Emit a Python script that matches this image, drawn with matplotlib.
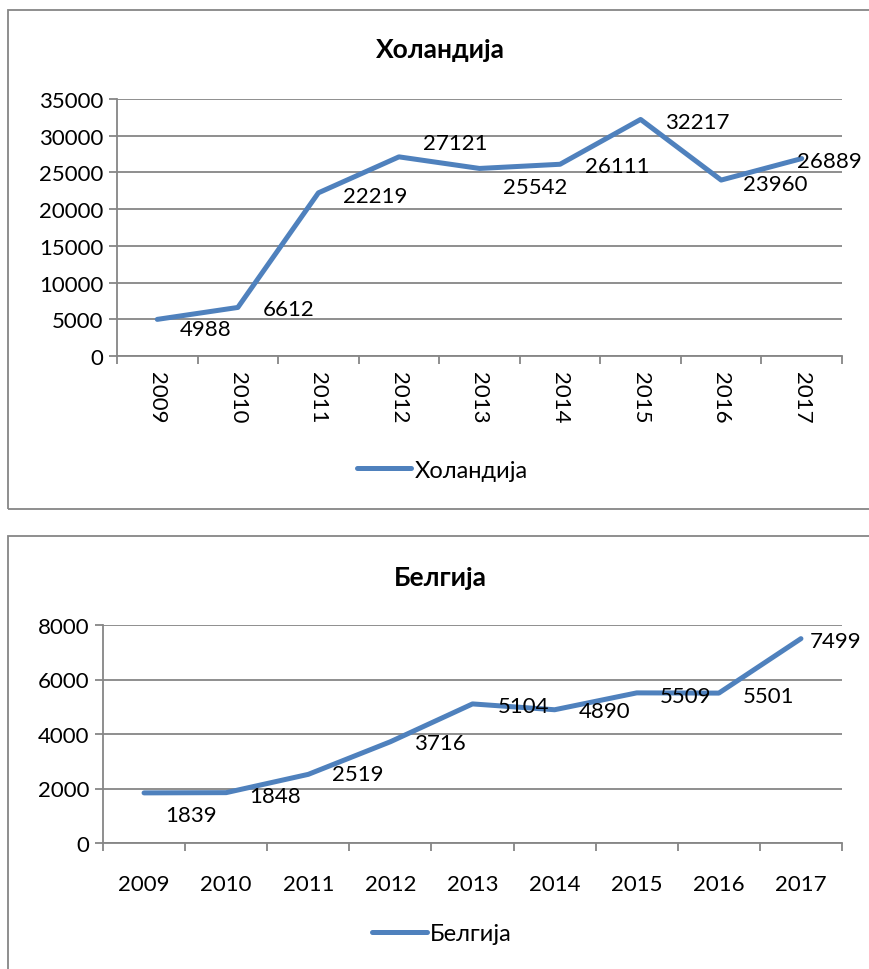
import numpy as np
import matplotlib
matplotlib.use('Agg')
import matplotlib.pyplot as plt
from matplotlib.patches import Rectangle

plt.rcParams['font.family'] = ['Lato', 'Open Sans', 'DejaVu Sans']

# data
years = ['2009', '2010', '2011', '2012', '2013', '2014', '2015', '2016', '2017']
holandija = [4988, 6612, 22219, 27121, 25542, 26111, 32217, 23960, 26889]
belgija = [1839, 1848, 2519, 3716, 5104, 4890, 5509, 5501, 7499]

# label offsets in pixels (dx to left edge, dy downwards)
hol_offsets = [(22, 10), (25, 2), (25, 3), (24, -14), (24, 19), (25, 2), (24, 3), (22, 4), (-5, 2)]
bel_offsets = [(21, 22), (23, 3), (24, 0), (24, 1), (25, 2), (24, 1), (23, 3), (24, 3), (9, 2)]

W, H = 869, 970
blue = '#4F81BD'
gray = '#868686'
fs = 16

fig = plt.figure(figsize=(W / 100, H / 100), dpi=100)

# chart borders
fig.patches.append(Rectangle((8 / W, 1 - 510 / H), 900 / W, 499 / H, transform=fig.transFigure,
                             fill=False, edgecolor=gray, linewidth=1.3))
fig.patches.append(Rectangle((8 / W, -0.05), 900 / W, 1 - 537 / H + 0.05, transform=fig.transFigure,
                             fill=False, edgecolor=gray, linewidth=1.3))


def draw(ax, values, offsets, title, ymax, ystep, rot, title_y, legend_y):
    x = np.arange(len(years))
    ax.plot(x, values, color=blue, linewidth=3.6, solid_capstyle='round',
            solid_joinstyle='round', label=title)
    for xi, v, (dx, dy) in zip(x, values, offsets):
        ax.annotate(str(v), (xi, v), xytext=(dx, -dy), textcoords='offset pixels',
                    ha='left', va='center', fontsize=fs, color='black')
    ax.set_xlim(-0.5, len(years) - 0.5)
    ax.set_ylim(0, ymax)
    ax.set_yticks(np.arange(0, ymax + 1, ystep))
    ax.yaxis.grid(True, color=gray, linewidth=1.3)
    ax.set_axisbelow(True)
    ax.set_xticks(x)
    ax.set_xticklabels(years, rotation=rot, fontsize=fs)
    ax.set_xticks(np.arange(-0.5, len(years)), minor=True)
    ax.tick_params(axis='x', which='major', length=0, pad=11 if rot else 22)
    ax.tick_params(axis='x', which='minor', length=6, width=1.3, color=gray, direction='out')
    ax.tick_params(axis='y', length=6, width=1.3, color=gray, labelsize=fs, pad=4)
    for s in ['top', 'right']:
        ax.spines[s].set_visible(False)
    for s in ['left', 'bottom']:
        ax.spines[s].set_color(gray)
        ax.spines[s].set_linewidth(1.3)
    fig.text(440 / W, 1 - title_y / H, title, ha='center', va='center',
             fontsize=19, fontweight='bold')
    ax.legend(loc='center', bbox_to_anchor=(442 / W, 1 - legend_y / H),
              bbox_transform=fig.transFigure, frameon=False, fontsize=17,
              handlelength=2.3, handletextpad=0.15)


ax1 = fig.add_axes([117 / W, 1 - 357 / H, 725 / W, 257 / H])
draw(ax1, holandija, hol_offsets, 'Холандија', 35000, 5000, 270, 50, 471)

ax2 = fig.add_axes([103 / W, 1 - 844 / H, 739 / W, 218 / H])
draw(ax2, belgija, bel_offsets, 'Белгија', 8000, 2000, 0, 578, 935)

fig.savefig('out.png', dpi=100)
